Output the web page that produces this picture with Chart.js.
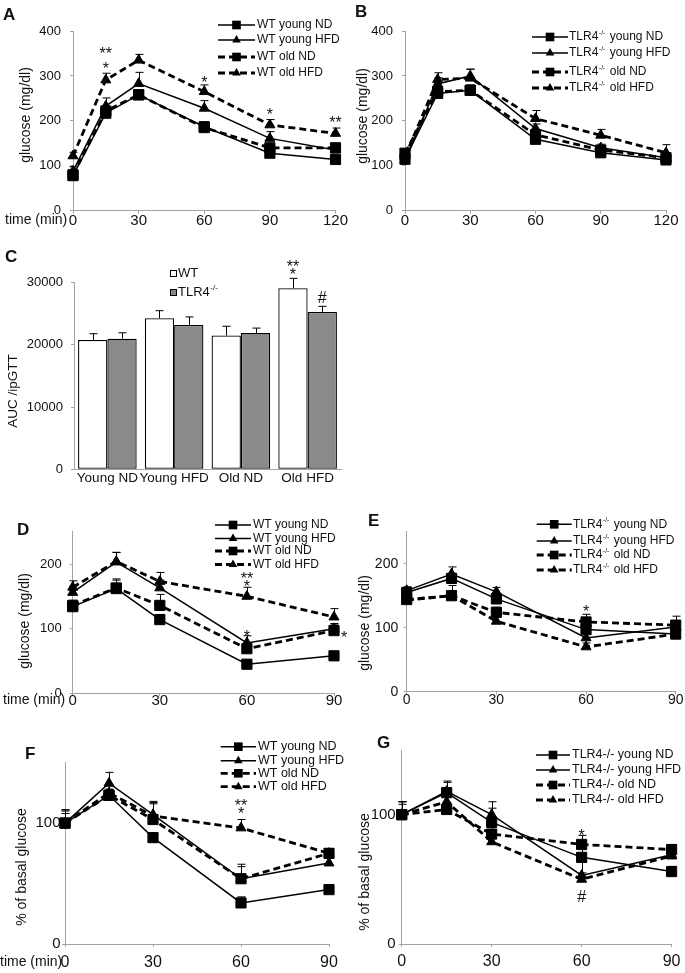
<!DOCTYPE html>
<html>
<head>
<meta charset="utf-8">
<title>ipGTT / ipITT in WT and TLR4-/- mice</title>
<script src="https://cdn.jsdelivr.net/npm/chart.js@4.4.1/dist/chart.umd.min.js"></script>
<style>
  body { margin: 0; background: #fff; }
  #page { position: relative; width: 685px; height: 973px; }
  #page canvas { position: absolute; left: 0; top: 0; }
</style>
</head>
<body>
<div id="page">
  <canvas id="chartA" width="685" height="973"></canvas>
  <canvas id="chartB" width="685" height="973"></canvas>
  <canvas id="chartC" width="685" height="973"></canvas>
  <canvas id="chartD" width="685" height="973"></canvas>
  <canvas id="chartE" width="685" height="973"></canvas>
  <canvas id="chartF" width="685" height="973"></canvas>
  <canvas id="chartG" width="685" height="973"></canvas>
</div>
<script>
// time points (min)
const gttTimes = [0, 15, 30, 60, 90, 120];
const ittTimes = [0, 15, 30, 60, 90];

const wtLabels = ['WT young ND', 'WT young HFD', 'WT old ND', 'WT old HFD'];
const koLabels = ['TLR4^{-/-} young ND', 'TLR4^{-/-} young HFD', 'TLR4^{-/-} old ND', 'TLR4^{-/-} old HFD'];
const koLabelsPlain = ['TLR4-/- young ND', 'TLR4-/- young HFD', 'TLR4-/- old ND', 'TLR4-/- old HFD'];

// A - WT ipGTT, glucose (mg/dl)
const wtGttYoungNd = [78, 217, 258, 187, 128, 114];
const wtGttYoungHfd = [88, 233, 283, 228, 161, 135];
const wtGttOldNd = [80, 222, 258, 185, 140, 140];
const wtGttOldHfd = [122, 291, 335, 265, 191, 172];
const wtGttYoungNdErr = [5, 8, 10, 5, 5, 5];
const wtGttYoungHfdErr = [10, 18, 25, 17, 15, 10];
const wtGttOldNdErr = [6, 10, 10, 8, 8, 10];
const wtGttOldHfdErr = [8, 15, 13, 15, 12, 12];

// B - TLR4-/- ipGTT
const koGttYoungNd = [115, 261, 268, 159, 129, 113];
const koGttYoungHfd = [110, 282, 300, 183, 140, 118];
const koGttOldNd = [128, 265, 268, 169, 135, 118];
const koGttOldHfd = [120, 292, 295, 205, 168, 129];
const koGttYoungNdErr = [8, 8, 10, 8, 6, 5];
const koGttYoungHfdErr = [8, 14, 15, 10, 8, 8];
const koGttOldNdErr = [8, 8, 12, 8, 10, 10];
const koGttOldHfdErr = [8, 15, 20, 18, 13, 18];

// C - AUC of ipGTT
const aucGroups = ['Young ND', 'Young HFD', 'Old ND', 'Old HFD'];
const aucWt = [20800, 24300, 21500, 29100];
const aucWtErr = [1000, 1200, 1500, 1600];
const aucKo = [21000, 23200, 21900, 25300];
const aucKoErr = [950, 1300, 800, 900];

// D - WT ipITT, glucose (mg/dl)
const wtIttYoungNd = [134, 162, 114, 45, 58];
const wtIttYoungHfd = [156, 203, 163, 78, 100];
const wtIttOldNd = [136, 163, 136, 69, 97];
const wtIttOldHfd = [164, 204, 173, 150, 118];
const wtIttYoungNdErr = [6, 15, 8, 4, 4];
const wtIttYoungHfdErr = [10, 15, 12, 11, 8];
const wtIttOldNdErr = [8, 12, 17, 6, 10];
const wtIttOldHfdErr = [10, 14, 14, 14, 13];

// E - TLR4-/- ipITT
const koIttYoungNd = [155, 177, 145, 97, 90];
const koIttYoungHfd = [158, 184, 156, 84, 101];
const koIttOldNd = [144, 150, 124, 109, 104];
const koIttOldHfd = [143, 150, 110, 70, 90];
const koIttYoungNdErr = [6, 8, 8, 8, 8];
const koIttYoungHfdErr = [6, 11, 7, 8, 10];
const koIttOldNdErr = [6, 16, 8, 12, 14];
const koIttOldHfdErr = [5, 8, 6, 6, 6];

// F - WT ipITT, % of basal glucose
const wtPctYoungNd = [100, 123, 88, 34, 45];
const wtPctYoungHfd = [100, 133, 107, 54, 67];
const wtPctOldNd = [100, 123, 103, 54, 75];
const wtPctOldHfd = [100, 125, 106, 96, 75];
const wtPctYoungNdErr = [10, 5, 4, 5, 4];
const wtPctYoungHfdErr = [11, 9, 11, 10, 4];
const wtPctOldNdErr = [11, 5, 14, 12, 4];
const wtPctOldHfdErr = [8, 6, 10, 7, 4];

// G - TLR4-/- ipITT, % of basal glucose
const koPctYoungNd = [100, 117, 94, 67, 56];
const koPctYoungHfd = [100, 118, 100, 53, 69];
const koPctOldNd = [100, 104, 85, 77, 73];
const koPctOldHfd = [100, 110, 79, 50, 68];
const koPctYoungNdErr = [10, 8, 11, 6, 4];
const koPctYoungHfdErr = [10, 8, 10, 10, 4];
const koPctOldNdErr = [10, 5, 8, 7, 4];
const koPctOldHfdErr = [8, 5, 6, 5, 4];

// significance marks, in data units (x = time, or bar index with ds)
const marksA = [{ x: 15, y: 358, t: '**' }, { x: 15, y: 326, t: '*' }, { x: 60, y: 293, t: '*' }, { x: 90, y: 222, t: '*' }, { x: 120, y: 204, t: '**' }];
const marksC = [{ x: 3, ds: 0, y: 33200, t: '**' }, { x: 3, ds: 0, y: 32000, t: '*' }, { x: 3, ds: 1, y: 27700, t: '#' }];
const marksD = [{ x: 60, y: 184, t: '**' }, { x: 60, y: 171, t: '*' }, { x: 60, y: 94, t: '*' }, { x: 93.5, y: 92, t: '*' }];
const marksE = [{ x: 60, y: 131, t: '*' }];
const marksF = [{ x: 60, y: 118, t: '**' }, { x: 60, y: 111, t: '*' }];
const marksG = [{ x: 60, y: 87, t: '*' }, { x: 60, y: 37, t: '#' }];

const FONT = '"Liberation Sans", Arial, sans-serif';
const AXIS = '#a3a3a3';
const INK = '#111';

function drawMarker(ctx, style, x, y, r) {
  ctx.beginPath();
  if (style === 'triangle') {
    ctx.moveTo(x, y - r);
    ctx.lineTo(x + r * 0.866, y + r * 0.5);
    ctx.lineTo(x - r * 0.866, y + r * 0.5);
    ctx.closePath();
  } else {
    const h = r * Math.SQRT1_2;
    ctx.rect(x - h, y - h, 2 * h, 2 * h);
  }
  ctx.fill();
}

// text like "TLR4^{-/-} young ND" gets a superscript
function drawLabel(ctx, text, x, y, size) {
  const m = text.match(/^(.*?)\^\{(.*?)\}(.*)$/);
  ctx.font = size + 'px ' + FONT;
  if (!m) { ctx.fillText(text, x, y); return; }
  ctx.fillText(m[1], x, y);
  let cx = x + ctx.measureText(m[1]).width + 0.5;
  ctx.font = Math.round(size * 0.62) + 'px ' + FONT;
  ctx.fillText(m[2], cx, y - size * 0.36);
  cx += ctx.measureText(m[2]).width + 1;
  ctx.font = size + 'px ' + FONT;
  ctx.fillText(m[3], cx, y);
}

const errorBars = {
  id: 'errorBars',
  beforeDatasetsDraw(chart) {
    const ctx = chart.ctx, yScale = chart.scales.y;
    ctx.save();
    ctx.strokeStyle = '#000';
    ctx.lineWidth = 1;
    chart.data.datasets.forEach((ds, i) => {
      if (!ds.errors) return;
      chart.getDatasetMeta(i).data.forEach((pt, j) => {
        const raw = ds.data[j];
        const v = typeof raw === 'number' ? raw : raw.y;
        const top = yScale.getPixelForValue(v + ds.errors[j]);
        const x = Math.round(pt.x) + 0.5;
        ctx.beginPath();
        ctx.moveTo(x, pt.y);
        ctx.lineTo(x, top);
        ctx.moveTo(x - 4, top);
        ctx.lineTo(x + 4, top);
        ctx.stroke();
      });
    });
    ctx.restore();
  }
};

const seriesLegend = {
  id: 'seriesLegend',
  afterDraw(chart, args, opts) {
    if (!opts.rows) return;
    const ctx = chart.ctx;
    ctx.save();
    chart.data.datasets.forEach((ds, i) => {
      const y = opts.rows[i];
      ctx.strokeStyle = '#000';
      if (opts.box) {
        ctx.fillStyle = ds.backgroundColor;
        ctx.lineWidth = 1;
        ctx.fillRect(opts.x0, y - 3.5, 7, 7);
        ctx.strokeRect(opts.x0 + 0.5, y - 3, 6, 6);
      } else {
        ctx.lineWidth = ds.borderWidth;
        ctx.setLineDash(ds.borderDash);
        ctx.beginPath();
        ctx.moveTo(opts.x0, y);
        ctx.lineTo(opts.x1, y);
        ctx.stroke();
        ctx.setLineDash([]);
        ctx.fillStyle = '#000';
        drawMarker(ctx, ds.pointStyle, (opts.x0 + opts.x1) / 2, y, ds.pointRadius * 0.85);
      }
      ctx.fillStyle = INK;
      ctx.textAlign = 'left';
      ctx.textBaseline = 'middle';
      drawLabel(ctx, ds.label, opts.xText, y, opts.size);
    });
    ctx.restore();
  }
};

const marks = {
  id: 'marks',
  afterDatasetsDraw(chart, args, opts) {
    if (!opts.items) return;
    const ctx = chart.ctx;
    ctx.save();
    ctx.fillStyle = INK;
    ctx.textAlign = 'center';
    ctx.textBaseline = 'alphabetic';
    ctx.font = opts.size + 'px ' + FONT;
    opts.items.forEach(m => {
      const x = m.ds !== undefined
        ? chart.getDatasetMeta(m.ds).data[m.x].x
        : chart.scales.x.getPixelForValue(m.x);
      const y = chart.scales.y.getPixelForValue(m.y);
      const lift = m.t.includes('*') ? 0.58 : 0.36;
      ctx.fillText(m.t, x, y + lift * opts.size);
    });
    ctx.restore();
  }
};

const pageText = {
  id: 'pageText',
  afterDraw(chart, args, opts) {
    if (!opts.items) return;
    const ctx = chart.ctx;
    opts.items.forEach(t => {
      ctx.save();
      ctx.translate(t.x, t.y);
      if (t.rot) ctx.rotate(t.rot);
      ctx.font = t.font;
      ctx.fillStyle = INK;
      ctx.textAlign = t.align || 'center';
      ctx.textBaseline = t.base || 'middle';
      ctx.fillText(t.text, 0, 0);
      ctx.restore();
    });
  }
};

Chart.register(errorBars, seriesLegend, marks, pageText);

function series(label, times, values, errors, old, hfd) {
  return {
    label,
    data: times.map((t, i) => ({ x: t, y: values[i] })),
    errors,
    borderColor: '#000',
    backgroundColor: '#000',
    borderWidth: old ? 2.8 : 1.5,
    borderDash: old ? [7, 4] : [],
    pointStyle: hfd ? 'triangle' : 'rect',
    pointRadius: hfd ? 5.8 : 7.2,
    pointBorderWidth: 1,
    pointBorderColor: '#000',
    pointBackgroundColor: '#000',
    tension: 0,
    clip: false
  };
}

// x labels are clipped to the x scale box, so keep it tall enough
const X_BOX = 28;

// place the plot area at page coordinates (L, R, T, B)
function place(L, R, T, B) {
  return { left: L - 50, right: 685 - R, top: T, bottom: 973 - B - X_BOX };
}

function xAxis(max, pad, size) {
  return {
    type: 'linear', min: 0, max,
    afterFit: s => { s.height = X_BOX; },
    border: { color: AXIS, width: 1 },
    grid: { drawOnChartArea: false, tickLength: 3, color: AXIS },
    ticks: { stepSize: 30, padding: pad, color: INK, maxRotation: 0, autoSkip: false, font: { family: FONT, size } }
  };
}

function yAxis(max, step, pad, size) {
  return {
    min: 0, max,
    afterFit: s => { s.width = 50; },
    border: { color: AXIS, width: 1 },
    grid: { drawOnChartArea: false, tickLength: 3, color: AXIS },
    ticks: { stepSize: step, includeBounds: false, padding: pad, color: INK, font: { family: FONT, size }, callback: v => String(v) }
  };
}

function linePanel(id, p) {
  new Chart(document.getElementById(id), {
    type: 'line',
    data: { datasets: p.datasets },
    options: {
      responsive: false,
      animation: false,
      events: [],
      layout: { padding: p.area },
      scales: { x: p.x, y: p.y },
      plugins: {
        legend: { display: false },
        tooltip: { enabled: false },
        seriesLegend: p.legend,
        marks: { items: p.marks, size: 16 },
        pageText: { items: p.texts }
      }
    }
  });
}

const letter = 'bold 17px ' + FONT;
const title = '14px ' + FONT;
const UP = -Math.PI / 2;

linePanel('chartA', {
  area: place(73, 335.5, 31, 210.7),
  x: xAxis(120, -2, 15),
  y: yAxis(400, 100, 9, 13),
  datasets: [
    series(wtLabels[0], gttTimes, wtGttYoungNd, wtGttYoungNdErr, false, false),
    series(wtLabels[1], gttTimes, wtGttYoungHfd, wtGttYoungHfdErr, false, true),
    series(wtLabels[2], gttTimes, wtGttOldNd, wtGttOldNdErr, true, false),
    series(wtLabels[3], gttTimes, wtGttOldHfd, wtGttOldHfdErr, true, true)
  ],
  legend: { x0: 218, x1: 255, xText: 257, rows: [25, 40, 57, 73], size: 12 },
  marks: marksA,
  texts: [
    { text: 'A', x: 3, y: 20, font: letter, align: 'left', base: 'alphabetic' },
    { text: 'glucose (mg/dl)', x: 25.7, y: 115, rot: UP, font: title },
    { text: 'time (min)', x: 5, y: 220, font: title, align: 'left' }
  ]
});

linePanel('chartB', {
  area: place(405, 666, 31, 210.7),
  x: xAxis(120, -2, 15),
  y: yAxis(400, 100, 9, 13),
  datasets: [
    series(koLabels[0], gttTimes, koGttYoungNd, koGttYoungNdErr, false, false),
    series(koLabels[1], gttTimes, koGttYoungHfd, koGttYoungHfdErr, false, true),
    series(koLabels[2], gttTimes, koGttOldNd, koGttOldNdErr, true, false),
    series(koLabels[3], gttTimes, koGttOldHfd, koGttOldHfdErr, true, true)
  ],
  legend: { x0: 532, x1: 568, xText: 569, rows: [37, 53, 72, 88], size: 12 },
  marks: [],
  texts: [
    { text: 'B', x: 355, y: 17, font: letter, align: 'left', base: 'alphabetic' },
    { text: 'glucose (mg/dl)', x: 363.3, y: 116, rot: UP, font: title }
  ]
});

new Chart(document.getElementById('chartC'), {
  type: 'bar',
  data: {
    labels: aucGroups,
    datasets: [
      { label: 'WT', data: aucWt, errors: aucWtErr, backgroundColor: '#fff', borderColor: '#000', borderWidth: 1.3, borderSkipped: false },
      { label: 'TLR4^{-/-}', data: aucKo, errors: aucKoErr, backgroundColor: '#8a8a8a', borderColor: '#000', borderWidth: 1.3, borderSkipped: false }
    ]
  },
  options: {
    responsive: false,
    animation: false,
    events: [],
    layout: { padding: place(74, 341, 282.7, 469.3) },
    datasets: { bar: { categoryPercentage: 0.878, barPercentage: 1 } },
    scales: {
      x: {
        afterFit: s => { s.height = X_BOX; },
        border: { color: AXIS, width: 1 },
        grid: { drawOnChartArea: false, drawTicks: false, tickLength: 0, color: AXIS },
        ticks: { padding: 1, color: INK, maxRotation: 0, autoSkip: false, font: { family: FONT, size: 13.5 } }
      },
      y: yAxis(30000, 10000, 8, 13)
    },
    plugins: {
      legend: { display: false },
      tooltip: { enabled: false },
      seriesLegend: { box: true, x0: 170, xText: 178, rows: [273.5, 292.5], size: 13 },
      marks: { items: marksC, size: 16 },
      pageText: {
        items: [
          { text: 'C', x: 5, y: 262, font: letter, align: 'left', base: 'alphabetic' },
          { text: 'AUC /ipGTT', x: 13.3, y: 391, rot: UP, font: '13.5px ' + FONT }
        ]
      }
    }
  }
});

linePanel('chartD', {
  area: place(72.7, 334, 531.7, 693.3),
  x: xAxis(90, -4, 15),
  y: yAxis(250, 100, 8, 13),
  datasets: [
    series(wtLabels[0], ittTimes, wtIttYoungNd, wtIttYoungNdErr, false, false),
    series(wtLabels[1], ittTimes, wtIttYoungHfd, wtIttYoungHfdErr, false, true),
    series(wtLabels[2], ittTimes, wtIttOldNd, wtIttOldNdErr, true, false),
    series(wtLabels[3], ittTimes, wtIttOldHfd, wtIttOldHfdErr, true, true)
  ],
  legend: { x0: 215, x1: 251, xText: 253, rows: [525, 538.5, 551, 564.5], size: 12 },
  marks: marksD,
  texts: [
    { text: 'D', x: 17, y: 535, font: letter, align: 'left', base: 'alphabetic' },
    { text: 'glucose (mg/dl)', x: 25, y: 621, rot: UP, font: title },
    { text: 'time (min)', x: 3, y: 700, font: title, align: 'left' }
  ]
});

linePanel('chartE', {
  area: place(406.7, 675.7, 531.7, 691.7),
  x: xAxis(90, -3, 14),
  y: yAxis(250, 100, 5.5, 14),
  datasets: [
    series(koLabels[0], ittTimes, koIttYoungNd, koIttYoungNdErr, false, false),
    series(koLabels[1], ittTimes, koIttYoungHfd, koIttYoungHfdErr, false, true),
    series(koLabels[2], ittTimes, koIttOldNd, koIttOldNdErr, true, false),
    series(koLabels[3], ittTimes, koIttOldHfd, koIttOldHfdErr, true, true)
  ],
  legend: { x0: 536.7, x1: 571.7, xText: 573, rows: [524.3, 541, 555, 570], size: 12 },
  marks: marksE,
  texts: [
    { text: 'E', x: 368, y: 526, font: letter, align: 'left', base: 'alphabetic' },
    { text: 'glucose (mg/dl)', x: 365, y: 623, rot: UP, font: title }
  ]
});

linePanel('chartF', {
  area: place(65, 329, 762.7, 944),
  x: xAxis(90, 6, 16),
  y: yAxis(150, 100, 1.5, 15),
  datasets: [
    series(wtLabels[0], ittTimes, wtPctYoungNd, wtPctYoungNdErr, false, false),
    series(wtLabels[1], ittTimes, wtPctYoungHfd, wtPctYoungHfdErr, false, true),
    series(wtLabels[2], ittTimes, wtPctOldNd, wtPctOldNdErr, true, false),
    series(wtLabels[3], ittTimes, wtPctOldHfd, wtPctOldHfdErr, true, true)
  ],
  legend: { x0: 220.7, x1: 256, xText: 258, rows: [746.7, 760.7, 773.3, 786.7], size: 12.5 },
  marks: marksF,
  texts: [
    { text: 'F', x: 25, y: 759, font: letter, align: 'left', base: 'alphabetic' },
    { text: '% of basal glucose', x: 21.7, y: 867, rot: UP, font: title },
    { text: 'time (min)', x: 0, y: 962, font: title, align: 'left' }
  ]
});

linePanel('chartG', {
  area: place(401.7, 676, 750, 944),
  x: xAxis(90, 4.5, 16),
  y: yAxis(150, 100, 3, 15),
  datasets: [
    series(koLabelsPlain[0], ittTimes, koPctYoungNd, koPctYoungNdErr, false, false),
    series(koLabelsPlain[1], ittTimes, koPctYoungHfd, koPctYoungHfdErr, false, true),
    series(koLabelsPlain[2], ittTimes, koPctOldNd, koPctOldNdErr, true, false),
    series(koLabelsPlain[3], ittTimes, koPctOldHfd, koPctOldHfdErr, true, true)
  ],
  legend: { x0: 536, x1: 570, xText: 572, rows: [755, 770, 785, 800], size: 12.5 },
  marks: marksG,
  texts: [
    { text: 'G', x: 377, y: 748, font: letter, align: 'left', base: 'alphabetic' },
    { text: '% of basal glucose', x: 365, y: 872, rot: UP, font: title }
  ]
});
</script>
</body>
</html>
